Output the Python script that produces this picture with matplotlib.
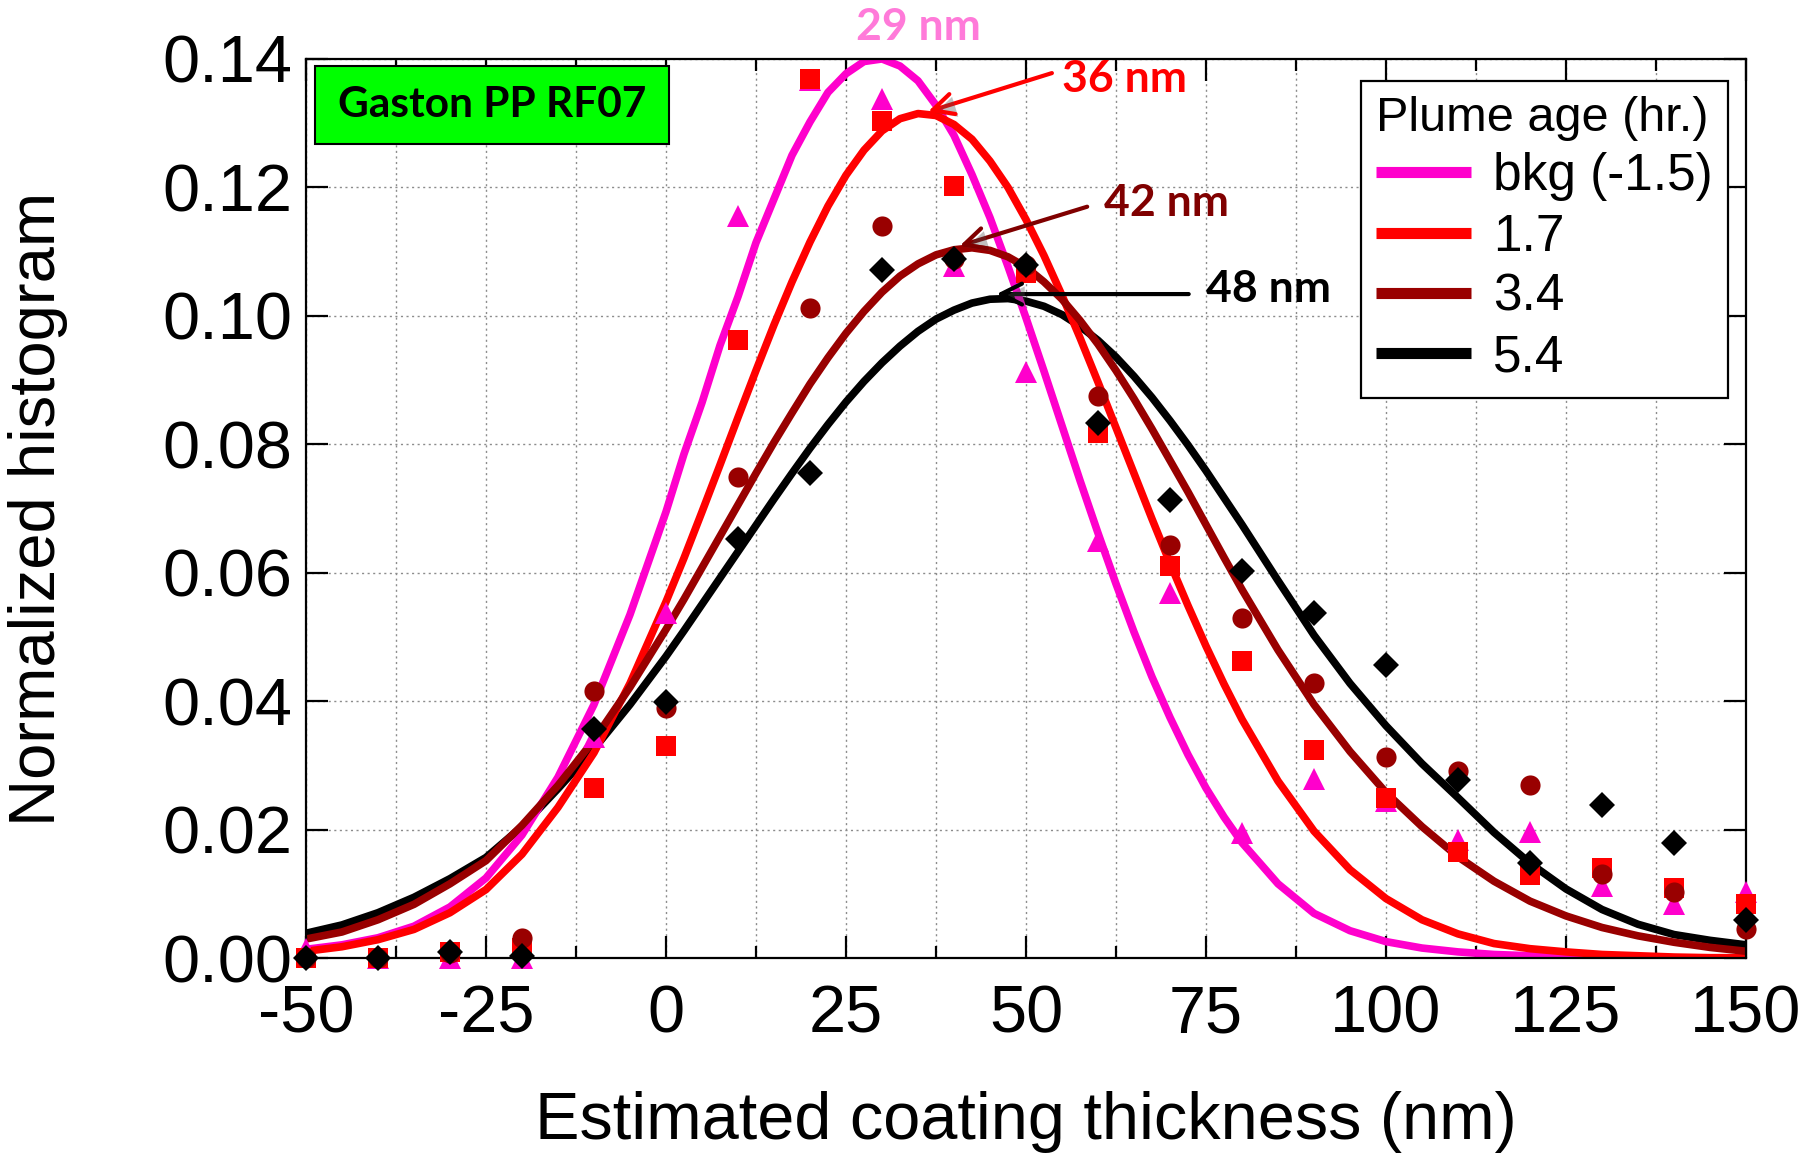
import matplotlib
matplotlib.use('Agg')
import matplotlib.pyplot as plt
from matplotlib.lines import Line2D
from matplotlib.patches import Rectangle
from matplotlib.ticker import MultipleLocator
import matplotlib.patheffects as pe

plt.rcParams['font.family'] = ['Liberation Sans', 'DejaVu Sans']
plt.rcParams['axes.unicode_minus'] = False

# ---------------- data ----------------
series_labels = ['bkg (-1.5)', '1.7', '3.4', '5.4']
legend_title = 'Plume age (hr.)'

x_pts = [-50, -40, -30, -20, -10, 0, 10, 20, 30, 40, 50, 60, 70, 80, 90,
         100, 110, 120, 130, 140, 150]
bkg_pts = [0.0015, 0.0, 0.0, 0.0, 0.0345, 0.0537, 0.1155, 0.1368, 0.1338, 0.1078,
           0.0913, 0.0650, 0.0568, 0.0195, 0.0279, 0.0245, 0.0184, 0.0196, 0.0113,
           0.0085, 0.0103]
h17_pts = [0.0, 0.0, 0.0010, 0.0016, 0.0265, 0.0330, 0.0963, 0.1369, 0.1304, 0.1203,
           0.1067, 0.0817, 0.0611, 0.0463, 0.0324, 0.0249, 0.0165, 0.0130, 0.0141,
           0.0109, 0.0084]
h34_pts = [0.0, 0.0, 0.0008, 0.0031, 0.0416, 0.0390, 0.0749, 0.1012, 0.1140, 0.1089,
           0.1079, 0.0876, 0.0644, 0.0530, 0.0428, 0.0313, 0.0291, 0.0270, 0.0132,
           0.0103, 0.0046]
h54_pts = [0.0, 0.0, 0.0010, 0.0003, 0.0357, 0.0399, 0.0653, 0.0756, 0.1072, 0.1089,
           0.1080, 0.0834, 0.0714, 0.0603, 0.0537, 0.0456, 0.0277, 0.0148, 0.0238,
           0.0179, 0.0060]

# fitted curves
x_fit = [-50, -45, -40, -35, -30, -25, -20, -15, -10, -5, 0,
         2.5, 5, 7.5, 10, 12.5, 15, 17.5, 20, 22.5, 25, 27.5, 30, 32.5, 35, 37.5, 40,
         42.5, 45, 47.5, 50, 52.5, 55, 57.5, 60, 62.5, 65, 67.5, 70, 72.5, 75, 77.5, 80,
         85, 90, 95, 100, 105, 110, 115, 120, 125, 130, 135, 140, 145, 150]
bkg_fit = [0.0014, 0.0021, 0.0032, 0.0050, 0.0080, 0.0125, 0.0192, 0.0282, 0.0395, 0.0535, 0.0695,
           0.0785, 0.0865, 0.0954, 0.1030, 0.1114, 0.1182, 0.1250, 0.1302, 0.1348, 0.1377,
           0.1396, 0.1400, 0.1389, 0.1366, 0.1328, 0.1281, 0.1220, 0.1153, 0.1077, 0.0997,
           0.0914, 0.0829, 0.0744, 0.0662, 0.0583, 0.0508, 0.0438, 0.0375, 0.0317, 0.0265,
           0.0220, 0.0180,
           0.0116, 0.0070, 0.0043, 0.0026, 0.0016, 0.0010, 0.0006, 0.0004, 0.0002, 0.0001,
           0.0001, 0.0000, 0.0000, 0.0000]
h17_fit = [0.0011, 0.0018, 0.0029, 0.0045, 0.0071, 0.0107, 0.0162, 0.0235, 0.0320, 0.0428, 0.0555,
           0.0623, 0.0695, 0.0768, 0.0842, 0.0915, 0.0986, 0.1053, 0.1115, 0.1171, 0.1219,
           0.1258, 0.1288, 0.1307, 0.1315, 0.1312, 0.1298, 0.1275, 0.1241, 0.1200, 0.1150,
           0.1094, 0.1032, 0.0966, 0.0897, 0.0826, 0.0755, 0.0684, 0.0615, 0.0549, 0.0486,
           0.0427, 0.0372,
           0.0276, 0.0198, 0.0138, 0.0093, 0.0060, 0.0038, 0.0023, 0.0015, 0.0010, 0.0006,
           0.0004, 0.0002, 0.0001, 0.0001]
h34_fit = [0.0030, 0.0041, 0.0060, 0.0084, 0.0116, 0.0152, 0.0207, 0.0269, 0.0340, 0.0422, 0.0512,
           0.0559, 0.0608, 0.0657, 0.0706, 0.0755, 0.0803, 0.0849, 0.0894, 0.0935, 0.0973,
           0.1007, 0.1037, 0.1062, 0.1081, 0.1095, 0.1103, 0.1106, 0.1102, 0.1092, 0.1076,
           0.1053, 0.1026, 0.0993, 0.0956, 0.0915, 0.0871, 0.0824, 0.0775, 0.0726, 0.0675,
           0.0624, 0.0574,
           0.0480, 0.0395, 0.0322, 0.0258, 0.0205, 0.0158, 0.0120, 0.0089, 0.0066, 0.0048,
           0.0035, 0.0025, 0.0017, 0.0011]
h54_fit = [0.0039, 0.0052, 0.0071, 0.0095, 0.0124, 0.0157, 0.0205, 0.0264, 0.0326, 0.0395, 0.0470,
           0.0510, 0.0551, 0.0592, 0.0633, 0.0674, 0.0715, 0.0755, 0.0794, 0.0831, 0.0866,
           0.0898, 0.0927, 0.0953, 0.0976, 0.0995, 0.1009, 0.1020, 0.1026, 0.1027, 0.1023,
           0.1015, 0.1002, 0.0984, 0.0962, 0.0936, 0.0906, 0.0873, 0.0837, 0.0799, 0.0759,
           0.0717, 0.0675,
           0.0588, 0.0503, 0.0428, 0.0362, 0.0303, 0.0250, 0.0196, 0.0148, 0.0108, 0.0076,
           0.0053, 0.0037, 0.0028, 0.0021]

peak_labels = ['29 nm', '36 nm', '42 nm', '48 nm']
peak_pos = [(29.4, 0.1400), (36.4, 0.1318), (40.8, 0.1109), (45.9, 0.1034)]
x_ticks = [-50, -25, 0, 25, 50, 75, 100, 125, 150]
y_ticks = [0.00, 0.02, 0.04, 0.06, 0.08, 0.10, 0.12, 0.14]

# ---------------- styles ----------------
c_pink = '#FF00CC'
c_red = '#FF0000'
c_dred = '#990000'
c_blk = '#000000'

fig = plt.figure(figsize=(18.18, 11.56), dpi=100)
ax = fig.add_axes([0.1683, 0.171, 0.7921, 0.778])

ax.set_xlim(-50, 150)
ax.set_ylim(0, 0.14)

ax.xaxis.set_minor_locator(MultipleLocator(12.5))
ax.set_xticks(x_ticks)
ax.set_xticklabels([str(v) for v in x_ticks])
ax.set_yticks(y_ticks)
ax.set_yticklabels([f'{v:.2f}' for v in y_ticks])
ax.grid(True, which='both', axis='x', color='#8c8c8c', lw=1.0, ls=(0, (1.5, 2.5)))
ax.grid(True, which='major', axis='y', color='#8c8c8c', lw=1.0, ls=(0, (1.5, 2.5)))
ax.set_axisbelow(True)

ax.tick_params(which='major', direction='in', length=16, width=1.6, top=True, right=True,
               labelsize=48)
ax.tick_params(which='minor', direction='in', length=8.5, width=1.6, top=True, right=True)
ax.tick_params(axis='x', pad=19)
ax.tick_params(axis='y', pad=10)
for s in ax.spines.values():
    s.set_linewidth(1.6)

lw = 5.5
ax.plot(x_fit, h54_fit, color=c_blk, lw=lw, zorder=2.0, solid_joinstyle='round')
ax.plot(x_fit, bkg_fit, color=c_pink, lw=lw, zorder=2.1, solid_joinstyle='round')
ax.plot(x_fit, h17_fit, color=c_red, lw=lw, zorder=2.2, solid_joinstyle='round')
ax.plot(x_fit, h34_fit, color=c_dred, lw=lw, zorder=2.3, solid_joinstyle='round')

ax.plot(x_pts, bkg_pts, ls='none', marker='^', ms=15.5, mew=0, color=c_pink, zorder=4, clip_on=False)
ax.plot(x_pts, h17_pts, ls='none', marker='s', ms=14, mew=0, color=c_red, zorder=4.1, clip_on=False)
ax.plot(x_pts, h34_pts, ls='none', marker='o', ms=14.5, mew=0, color=c_dred, zorder=4.2, clip_on=False)
ax.plot(x_pts, h54_pts, ls='none', marker='D', ms=13.5, mew=0, color=c_blk, zorder=4.3, clip_on=False)

# axis labels
ax.set_xlabel('Estimated coating thickness (nm)', fontsize=48, va='center')
ax.xaxis.set_label_coords(0.5, -0.182)
ax.set_ylabel('Normalized histogram', fontsize=47, va='center')
ax.yaxis.set_label_coords(-0.186, 0.5)

# legend
handles = [Line2D([], [], color=c, lw=8, solid_capstyle='butt')
           for c in (c_pink, c_red, c_dred, c_blk)]
leg = ax.legend(handles, series_labels, title=legend_title, loc='upper right',
                bbox_to_anchor=(0.9873, 0.9759), borderaxespad=0, fontsize=37,
                title_fontsize=35, alignment='left', handlelength=1.85,
                handletextpad=0.42, labelspacing=0.22, borderpad=0.3,
                fancybox=False, framealpha=1, edgecolor='black')
leg.get_frame().set_linewidth(1.6)
leg.set_zorder(6)

# green label box
ax.add_patch(Rectangle((0.00625, 0.9055), 0.2458, 0.0867, transform=ax.transAxes,
                       facecolor='#00FF00', edgecolor='black', lw=1.5, zorder=6))
ax.text(0.129, 0.949, 'Gaston PP RF07', transform=ax.transAxes, ha='center', va='center',
        fontsize=30.5, fontweight='bold', family=['Lato', 'DejaVu Sans'], zorder=7)

# peak annotations
shadow = [pe.SimplePatchShadow(offset=(2, -2), alpha=0.35), pe.Normal()]
lab_font = dict(fontsize=32, fontweight='bold', family=['Lato', 'DejaVu Sans'])
ax.text(35.1, 0.1450, peak_labels[0], color='#FF7AD9', ha='center', va='center',
        clip_on=False, zorder=7, **lab_font)

arrow_style = '->,head_length=0.5,head_width=0.25'
ax.annotate('', xy=peak_pos[1], xytext=(53.6, 0.1378),
            arrowprops=dict(arrowstyle=arrow_style, color=c_red, lw=3, mutation_scale=30,
                            shrinkA=0, shrinkB=0, path_effects=shadow), zorder=7)
ax.text(55.0, 0.1369, peak_labels[1], color=c_red, ha='left', va='center', zorder=7, **lab_font)

ax.annotate('', xy=peak_pos[2], xytext=(58.5, 0.1170),
            arrowprops=dict(arrowstyle=arrow_style, color='#800000', lw=3, mutation_scale=30,
                            shrinkA=0, shrinkB=0, path_effects=shadow), zorder=7)
ax.text(60.9, 0.1175, peak_labels[2], color='#800000', ha='left', va='center', zorder=7, **lab_font)

ax.annotate('', xy=peak_pos[3], xytext=(72.6, 0.1034),
            arrowprops=dict(arrowstyle=arrow_style, color=c_blk, lw=3, mutation_scale=30,
                            shrinkA=0, shrinkB=0, path_effects=shadow), zorder=7)
ax.text(75.0, 0.1042, peak_labels[3], color=c_blk, ha='left', va='center', zorder=7, **lab_font)

fig.savefig('out.png', dpi=100)
